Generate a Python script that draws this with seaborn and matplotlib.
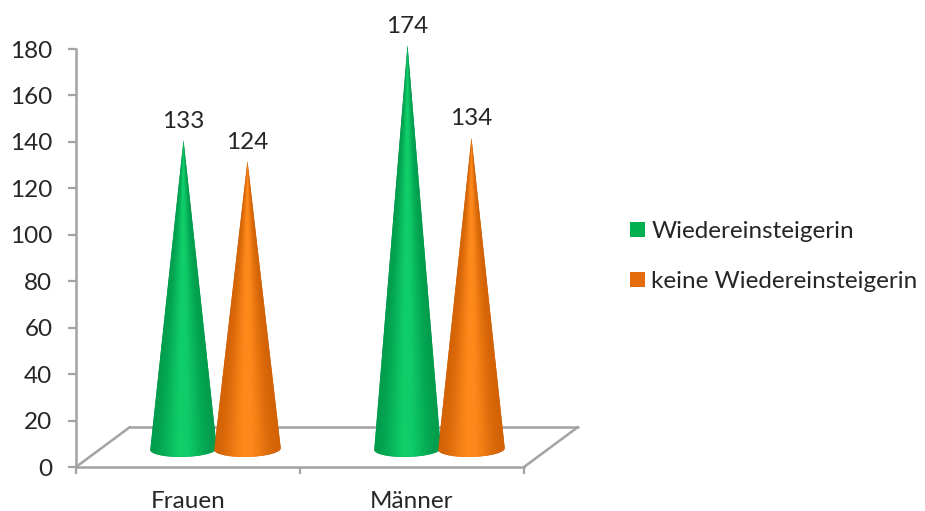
import numpy as np
import pandas as pd
import matplotlib
matplotlib.use("Agg")
import matplotlib.pyplot as plt
import matplotlib.colors as mcolors
from matplotlib.patches import Patch, Polygon
from matplotlib.transforms import ScaledTranslation
import seaborn as sns

# Survey counts per group
groups = ["Frauen", "Männer"]
series_names = ["Wiedereinsteigerin", "keine Wiedereinsteigerin"]
wiedereinsteigerin = [133, 174]
keine_wiedereinsteigerin = [124, 134]
y_ticks = list(range(0, 181, 20))

series_colors = ["#00B050", "#E46C0A"]
shade_dark = ["#009A4B", "#D06004"]
shade_light = ["#10CE6A", "#FF8A1C"]
axis_color = "#A3A3A3"
text_color = "#262626"
FONT_SIZE = 17.5

sns.set_theme(style="white")
plt.rcParams["font.family"] = ["Lato", "DejaVu Sans"]

df = pd.DataFrame({
    "Gruppe": groups * 2,
    "Typ": [series_names[0]] * 2 + [series_names[1]] * 2,
    "Anzahl": wiedereinsteigerin + keine_wiedereinsteigerin,
})

W, H = 925, 511
fig = plt.figure(figsize=(W / 100, H / 100), dpi=100)
ax = fig.add_axes([76 / W, 1 - 467 / H, 448 / W, 418 / H])

# The bars supply position and height; each one is redrawn as a shaded cone
sns.barplot(data=df, x="Gruppe", y="Anzahl", hue="Typ", palette=series_colors,
            width=0.571, legend=False, ax=ax)
ax.set_xlabel("")
ax.set_ylabel("")

# Pseudo-3D depth: cones stand on the middle of the floor, the floor recedes further
cone_shift = ScaledTranslation(27.5 / 100, 18 / 100, fig.dpi_scale_trans)
floor_shift = ScaledTranslation(54 / 100, 40 / 100, fig.dpi_scale_trans)
cone_trans = ax.transData + cone_shift


def shaded_cone(cx, height, half_width, dark, light, n=90):
    base_h = 3.4
    theta = np.linspace(np.pi, 2 * np.pi, n + 1)
    xs = cx + half_width * np.cos(theta)
    ys = base_h * np.sin(theta) + 0.35 * np.cos(theta)
    outline = [(cx, height)] + list(zip(xs, ys))

    # Solid silhouette gives a smooth edge under the clipped shading image
    cone = Polygon(outline, closed=True, facecolor=dark, edgecolor="none",
                   transform=cone_trans, clip_on=False, zorder=3)
    ax.add_patch(cone)

    # Shading follows the cone's surface, so it narrows toward the tip
    rows, cols = 500, 160
    u = np.linspace(-1, 1, cols)
    v = np.linspace(-4.2, height, rows)
    local = np.clip(1 - np.maximum(v, 0) / height, 1e-3, 1)[:, None]
    t = np.clip(u[None, :] / local, -1, 1)
    glow = np.exp(-((t + 0.02) / 0.58) ** 2)[:, :, None]
    dark_rgb = np.array(mcolors.to_rgb(dark))
    light_rgb = np.array(mcolors.to_rgb(light))
    image = dark_rgb + (light_rgb - dark_rgb) * glow
    im = ax.imshow(image, origin="lower", aspect="auto", interpolation="bilinear",
                   extent=(cx - half_width, cx + half_width, -4.2, height),
                   transform=cone_trans, zorder=3.1)
    im.set_clip_box(fig.bbox)
    im.set_clip_path(cone)


bars = list(ax.patches)
for idx, bar in enumerate(bars):
    s = idx // len(groups)
    cx = bar.get_x() + bar.get_width() / 2
    value = bar.get_height()
    half = bar.get_width() / 2 * 1.04
    bar.set_visible(False)
    shaded_cone(cx, value, half, shade_dark[s], shade_light[s])
    ax.annotate(f"{value:.0f}", xy=(cx, value), xycoords=cone_trans,
                xytext=(0, 6), textcoords="offset points", ha="center", va="bottom",
                fontsize=FONT_SIZE, color=text_color, annotation_clip=False, zorder=5)

ax.set_xlim(-0.5, 1.5)
ax.set_ylim(0, 180)

# Chart floor behind the cones
floor_trans = ax.transAxes + floor_shift
ax.plot([0, 1], [0, 0], transform=floor_trans, color=axis_color, lw=1.8, clip_on=False, zorder=1)
for x_front in (0, 1):
    p0 = ax.transAxes.transform((x_front, 0))
    p1 = floor_trans.transform((x_front, 0))
    ax.annotate("", xy=p1, xytext=p0, xycoords="figure pixels", textcoords="figure pixels",
                arrowprops=dict(arrowstyle="-", color=axis_color, lw=1.8,
                                shrinkA=0, shrinkB=0), zorder=1, annotation_clip=False)

# Axes
sns.despine(ax=ax)
for side in ("left", "bottom"):
    ax.spines[side].set_color(axis_color)
    ax.spines[side].set_linewidth(1.8)
ax.set_yticks(y_ticks)
ax.tick_params(axis="y", left=True, length=6, width=1.6, color=axis_color, pad=11,
               labelsize=FONT_SIZE, labelcolor=text_color)
ax.set_xticks([-0.5, 0.5, 1.5], minor=True)
ax.tick_params(axis="x", which="minor", bottom=True, length=5, width=1.6, color=axis_color)
ax.tick_params(axis="x", which="major", bottom=False, length=0, pad=17,
               labelsize=FONT_SIZE, labelcolor=text_color)

# Legend
handles = [Patch(facecolor=c, edgecolor="none", label=n)
           for c, n in zip(series_colors, series_names)]
leg = fig.legend(handles=handles, loc="center left", bbox_to_anchor=(630 / W, 1 - 256.5 / H),
                 frameon=False, fontsize=FONT_SIZE, handlelength=0.62, handleheight=0.62,
                 handletextpad=0.25, labelspacing=1.19, borderpad=0, borderaxespad=0)
for t in leg.get_texts():
    t.set_color(text_color)

fig.savefig("out.png", dpi=100)
